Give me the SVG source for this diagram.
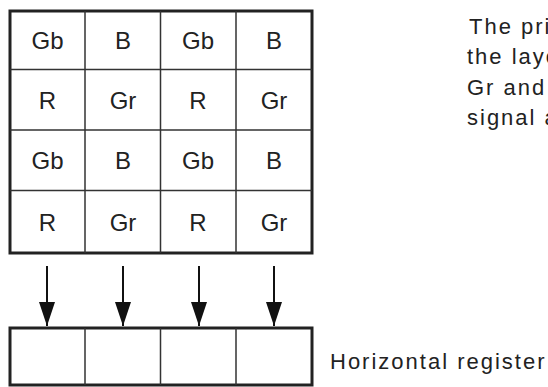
<svg xmlns="http://www.w3.org/2000/svg" width="548" height="387" viewBox="0 0 548 387">
<defs>
<style>
.outer{fill:#fff;stroke:#222;stroke-width:3}
.inner{stroke:#333;stroke-width:1.5;fill:none}
.cell{font-family:"Liberation Sans",Arial,sans-serif;font-size:24px;fill:#222;text-anchor:middle}
.lbl{font-family:"Liberation Sans",Arial,sans-serif;font-size:22px;fill:#222;letter-spacing:2px}
.conn{stroke:#111;stroke-width:2;fill:none;marker-end:url(#ah)}
</style>
<marker id="ah" markerUnits="userSpaceOnUse" markerWidth="24" markerHeight="16" refX="24" refY="8" orient="auto" viewBox="0 0 24 16">
<path d="M0,0 L24,8 L0,16 Z" fill="#111"/>
</marker>
</defs>
<rect width="548" height="387" fill="#fff"/>
<g id="pixel-array">
<rect class="outer" x="10" y="11" width="302" height="242"/>
<path class="inner" d="M85,11V253M160.5,11V253M236,11V253M10,69.5H312M10,130H312M10,190.5H312"/>
<text class="cell" x="47.5" y="49">Gb</text>
<text class="cell" x="123" y="49">B</text>
<text class="cell" x="198" y="49">Gb</text>
<text class="cell" x="274" y="49">B</text>
<text class="cell" x="47.5" y="108.5">R</text>
<text class="cell" x="123" y="108.5">Gr</text>
<text class="cell" x="198" y="108.5">R</text>
<text class="cell" x="274" y="108.5">Gr</text>
<text class="cell" x="47.5" y="169">Gb</text>
<text class="cell" x="123" y="169">B</text>
<text class="cell" x="198" y="169">Gb</text>
<text class="cell" x="274" y="169">B</text>
<text class="cell" x="47.5" y="230.5">R</text>
<text class="cell" x="123" y="230.5">Gr</text>
<text class="cell" x="198" y="230.5">R</text>
<text class="cell" x="274" y="230.5">Gr</text>
</g>
<g id="horizontal-register">
<rect class="outer" x="10" y="328" width="302" height="57"/>
<path class="inner" d="M85,328V385M160.5,328V385M236,328V385"/>
</g>
<g id="connectors">
<path class="conn" d="M47,266V326"/>
<path class="conn" d="M123,266V326"/>
<path class="conn" d="M199,266V326"/>
<path class="conn" d="M274,266V326"/>
</g>
<g id="labels">
<text class="lbl" x="330" y="369">Horizontal register</text>
<text class="lbl" x="469" y="34">The pri</text>
<text class="lbl" x="467" y="64">the layo</text>
<text class="lbl" x="467" y="95">Gr and</text>
<text class="lbl" x="467" y="125">signal a</text>
</g>
</svg>
